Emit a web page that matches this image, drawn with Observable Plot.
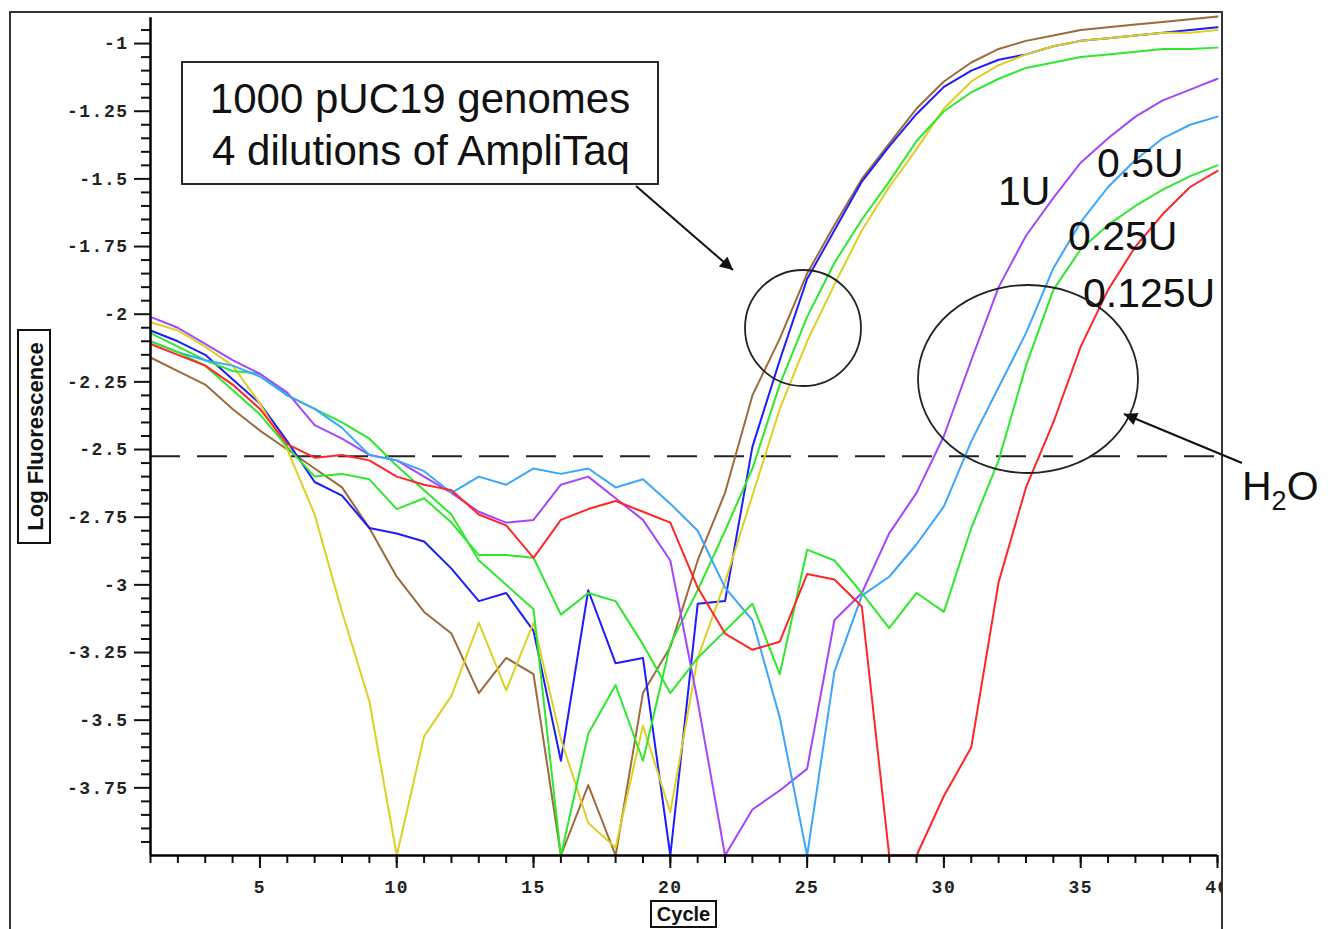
<!DOCTYPE html>
<html><head><meta charset="utf-8">
<script src="https://cdn.jsdelivr.net/npm/d3@7"></script>
<script src="https://cdn.jsdelivr.net/npm/@observablehq/plot@0.6"></script>
<style>body{margin:0;background:#fff}</style>
</head><body><div id="chart"></div>
<script>
const cycles = [1,2,3,4,5,6,7,8,9,10,11,12,13,14,15,16,17,18,19,20,21,22,23,24,25,26,27,28,29,30,31,32,33,34,35,36,37,38,39,40];

// 1000 pUC19 genomes group
const brown  = [-2.16,-2.21,-2.26,-2.35,-2.43,-2.50,-2.57,-2.64,-2.79,-2.97,-3.10,-3.18,-3.40,-3.27,-3.33,-4.00,-3.74,-4.00,-3.40,-3.23,-2.91,-2.66,-2.30,-2.09,-1.85,-1.67,-1.50,-1.37,-1.24,-1.14,-1.07,-1.02,-0.99,-0.97,-0.95,-0.94,-0.93,-0.92,-0.91,-0.90];
const blue   = [-2.06,-2.10,-2.15,-2.24,-2.33,-2.47,-2.62,-2.67,-2.79,-2.81,-2.84,-2.94,-3.06,-3.03,-3.17,-3.65,-3.02,-3.29,-3.27,-4.00,-3.07,-3.06,-2.49,-2.17,-1.87,-1.69,-1.51,-1.38,-1.26,-1.16,-1.10,-1.06,-1.04,-1.01,-0.99,-0.98,-0.97,-0.96,-0.95,-0.94];
const yellow = [-2.03,-2.06,-2.12,-2.19,-2.33,-2.50,-2.74,-3.10,-3.43,-4.00,-3.56,-3.41,-3.14,-3.39,-3.14,-3.57,-3.88,-3.97,-3.52,-3.84,-3.27,-2.99,-2.67,-2.35,-2.10,-1.89,-1.69,-1.53,-1.39,-1.24,-1.14,-1.08,-1.04,-1.01,-0.99,-0.98,-0.97,-0.96,-0.96,-0.95];
const greenA = [-2.07,-2.12,-2.17,-2.21,-2.22,-2.30,-2.35,-2.40,-2.46,-2.56,-2.65,-2.74,-2.91,-3.00,-3.09,-4.00,-3.55,-3.37,-3.65,-3.22,-3.02,-2.80,-2.57,-2.26,-2.01,-1.81,-1.65,-1.51,-1.36,-1.25,-1.18,-1.13,-1.09,-1.07,-1.05,-1.04,-1.03,-1.02,-1.02,-1.015];
// AmpliTaq dilutions
const purple    = [-2.01,-2.05,-2.11,-2.17,-2.22,-2.29,-2.41,-2.46,-2.52,-2.54,-2.60,-2.66,-2.73,-2.77,-2.76,-2.63,-2.60,-2.68,-2.76,-2.91,-3.43,-4.00,-3.83,-3.76,-3.68,-3.13,-3.03,-2.81,-2.66,-2.45,-2.17,-1.90,-1.71,-1.57,-1.44,-1.35,-1.27,-1.21,-1.17,-1.13];
const lightblue = [-2.10,-2.14,-2.17,-2.19,-2.23,-2.30,-2.35,-2.42,-2.52,-2.54,-2.58,-2.66,-2.60,-2.63,-2.57,-2.59,-2.57,-2.64,-2.61,-2.70,-2.80,-3.01,-3.13,-3.49,-4.00,-3.32,-3.04,-2.97,-2.85,-2.71,-2.47,-2.27,-2.07,-1.83,-1.66,-1.53,-1.43,-1.35,-1.30,-1.27];
const greenB    = [-2.10,-2.14,-2.19,-2.28,-2.37,-2.49,-2.60,-2.59,-2.61,-2.72,-2.68,-2.77,-2.89,-2.89,-2.90,-3.11,-3.03,-3.06,-3.22,-3.40,-3.27,-3.17,-3.07,-3.33,-2.87,-2.91,-3.03,-3.16,-3.03,-3.10,-2.79,-2.54,-2.19,-1.91,-1.76,-1.67,-1.60,-1.54,-1.49,-1.45];
const red       = [-2.11,-2.15,-2.19,-2.26,-2.35,-2.48,-2.53,-2.52,-2.54,-2.60,-2.63,-2.65,-2.74,-2.78,-2.90,-2.76,-2.72,-2.69,-2.73,-2.77,-3.01,-3.18,-3.24,-3.21,-2.96,-2.98,-3.08,-4.00,-4.00,-3.78,-3.60,-2.99,-2.64,-2.40,-2.12,-1.91,-1.75,-1.63,-1.53,-1.47];

const seriesNames  = ["brown","blue","yellow","greenA","purple","lightblue","greenB","red"];
const seriesValues = [brown, blue, yellow, greenA, purple, lightblue, greenB, red];
const seriesColors = ["#9c6a3c","#1c1cff","#ddd021","#2de82d","#a346ff","#3aa6ff","#2de82d","#ff2626"];

const threshold = -2.525;
const yTicks = [-1,-1.25,-1.5,-1.75,-2,-2.25,-2.5,-2.75,-3,-3.25,-3.5,-3.75];
const yTickLabels = ["-1","-1.25","-1.5","-1.75","-2","-2.25","-2.5","-2.75","-3","-3.25","-3.5","-3.75"];
const yMinorTicks = [-3.95,-3.9,-3.85,-3.8,-3.7,-3.65,-3.6,-3.55,-3.45,-3.4,-3.35,-3.3,-3.2,-3.15,-3.1,-3.05,-2.95,-2.9,-2.85,-2.8,-2.7,-2.65,-2.6,-2.55,-2.45,-2.4,-2.35,-2.3,-2.2,-2.15,-2.1,-2.05,-1.95,-1.9,-1.85,-1.8,-1.7,-1.65,-1.6,-1.55,-1.45,-1.4,-1.35,-1.3,-1.2,-1.15,-1.1,-1.05,-0.95];
const xTicks = [5,10,15,20,25,30,35,40];
const xTickLabels = ["5","10","15","20","25","30","35","40"];

const yLabelMap = new Map(yTicks.map((t,i)=>[t, yTickLabels[i]]));
const xLabelMap = new Map(xTicks.map((t,i)=>[t, xTickLabels[i]]));

const rows = [];
seriesNames.forEach((s, si) => cycles.forEach((c, i) => rows.push({series: s, cycle: c, value: seriesValues[si][i]})));

const tickFont = {fontFamily: "'Liberation Mono', 'DejaVu Sans Mono', monospace", fontWeight: "bold", fontSize: 18};

const chart = Plot.plot({
  width: 1329, height: 929,
  marginLeft: 150, marginRight: 112, marginTop: 16, marginBottom: 74,
  style: {background: "white", color: "#111"},
  x: {domain: [1, 40], label: null},
  y: {domain: [-4, -0.9], label: null},
  marks: [
    Plot.ruleY([threshold], {stroke: "#222", strokeWidth: 2, strokeDasharray: "30,17"}),
    ...seriesNames.map((s, si) => Plot.line(rows.filter(d => d.series === s), {x: "cycle", y: "value", stroke: seriesColors[si], strokeWidth: 2})),
    Plot.axisY(yMinorTicks, {tickSize: 9, tickFormat: () => "", strokeWidth: 2, label: null}),
    Plot.axisY(yTicks, {tickSize: 16, tickPadding: 6, tickFormat: d => yLabelMap.get(d), strokeWidth: 2, label: null, ...tickFont}),
    Plot.axisX(cycles, {tickSize: 8, tickFormat: () => "", strokeWidth: 2, label: null}),
    Plot.axisX(xTicks, {tickSize: 13, tickPadding: 12, tickFormat: d => xLabelMap.get(d), strokeWidth: 2, label: null, ...tickFont}),
    Plot.ruleX([1], {y1: -4, y2: -0.905, stroke: "#000", strokeWidth: 2.5}),
    Plot.ruleY([-4], {x1: 1, x2: 40, stroke: "#000", strokeWidth: 2.5})
  ]
});

document.getElementById("chart").appendChild(chart);
const svg = d3.select(chart);
svg.selectAll('[aria-label="y-axis tick label"], [aria-label="x-axis tick label"]')
  .attr("font-weight", "bold").attr("font-size", 18).attr("font-family", "'Liberation Mono', 'DejaVu Sans Mono', monospace")
  .attr("fill", "#222");
svg.selectAll('[aria-label="y-axis tick label"] text, [aria-label="x-axis tick label"] text').attr("letter-spacing", "1.5");

// ---- annotations (pixel layout) ----
const sans = "'Liberation Sans', Arial, sans-serif";
const defs = svg.append("defs");
defs.append("marker").attr("id", "ah").attr("viewBox", "0 0 10 10").attr("refX", 10).attr("refY", 5)
  .attr("markerUnits", "userSpaceOnUse").attr("markerWidth", 17).attr("markerHeight", 13).attr("orient", "auto")
  .append("path").attr("d", "M0,0L10,5L0,10z").attr("fill", "#111");

const ann = svg.append("g").attr("text-anchor", "start");

// clip of the last tick label by the frame
ann.append("rect").attr("x", 1223).attr("y", 872).attr("width", 30).attr("height", 30).attr("fill", "#fff");

// outer frame
ann.append("path").attr("d", "M10,929V12H1222V929").attr("fill", "none").attr("stroke", "#333").attr("stroke-width", 2);

// axis titles
ann.append("rect").attr("x", 18).attr("y", 330).attr("width", 32).attr("height", 213).attr("fill", "#fff").attr("stroke", "#111").attr("stroke-width", 2);
ann.append("text").attr("transform", "translate(35,436.5) rotate(-90)").attr("text-anchor", "middle").attr("dy", "0.35em")
  .attr("font-family", sans).attr("font-weight", "bold").attr("font-size", 22).text("Log Fluorescence");
ann.append("rect").attr("x", 651).attr("y", 901).attr("width", 65).attr("height", 26).attr("fill", "#fff").attr("stroke", "#111").attr("stroke-width", 2);
ann.append("text").attr("x", 683.5).attr("y", 914).attr("text-anchor", "middle").attr("dy", "0.35em")
  .attr("font-family", sans).attr("font-weight", "bold").attr("font-size", 20).text("Cycle");

// text box
ann.append("rect").attr("x", 182).attr("y", 62).attr("width", 476).attr("height", 122).attr("fill", "#fff").attr("stroke", "#111").attr("stroke-width", 1.8);
ann.append("text").attr("x", 420).attr("y", 113).attr("text-anchor", "middle").attr("font-family", sans).attr("font-size", 42).attr("fill", "#111").text("1000 pUC19 genomes");
ann.append("text").attr("x", 421).attr("y", 165).attr("text-anchor", "middle").attr("font-family", sans).attr("font-size", 42).attr("fill", "#111").text("4 dilutions of AmpliTaq");

// circles
ann.append("ellipse").attr("cx", 803).attr("cy", 328).attr("rx", 58).attr("ry", 58).attr("fill", "none").attr("stroke", "#222").attr("stroke-width", 1.8);
ann.append("ellipse").attr("cx", 1028).attr("cy", 379).attr("rx", 110).attr("ry", 94).attr("fill", "none").attr("stroke", "#222").attr("stroke-width", 1.8);

// arrows
ann.append("line").attr("x1", 636).attr("y1", 186).attr("x2", 733).attr("y2", 270).attr("stroke", "#111").attr("stroke-width", 2).attr("marker-end", "url(#ah)");
ann.append("line").attr("x1", 1242).attr("y1", 463).attr("x2", 1124).attr("y2", 414).attr("stroke", "#111").attr("stroke-width", 2).attr("marker-end", "url(#ah)");

// dilution labels
const labels = [["1U", 998, 205], ["0.5U", 1097, 177], ["0.25U", 1068, 250], ["0.125U", 1083, 307]];
labels.forEach(([t, x, y]) => ann.append("text").attr("x", x).attr("y", y).attr("text-anchor", "start").attr("font-family", sans).attr("font-size", 41).attr("fill", "#111").text(t));

// H2O
const h = ann.append("text").attr("x", 1242).attr("y", 500).attr("text-anchor", "start").attr("font-family", sans).attr("font-size", 41).attr("fill", "#111");
h.append("tspan").text("H");
h.append("tspan").attr("font-size", 27).attr("dy", 10).text("2");
h.append("tspan").attr("dy", -10).text("O");
</script>
</body></html>
